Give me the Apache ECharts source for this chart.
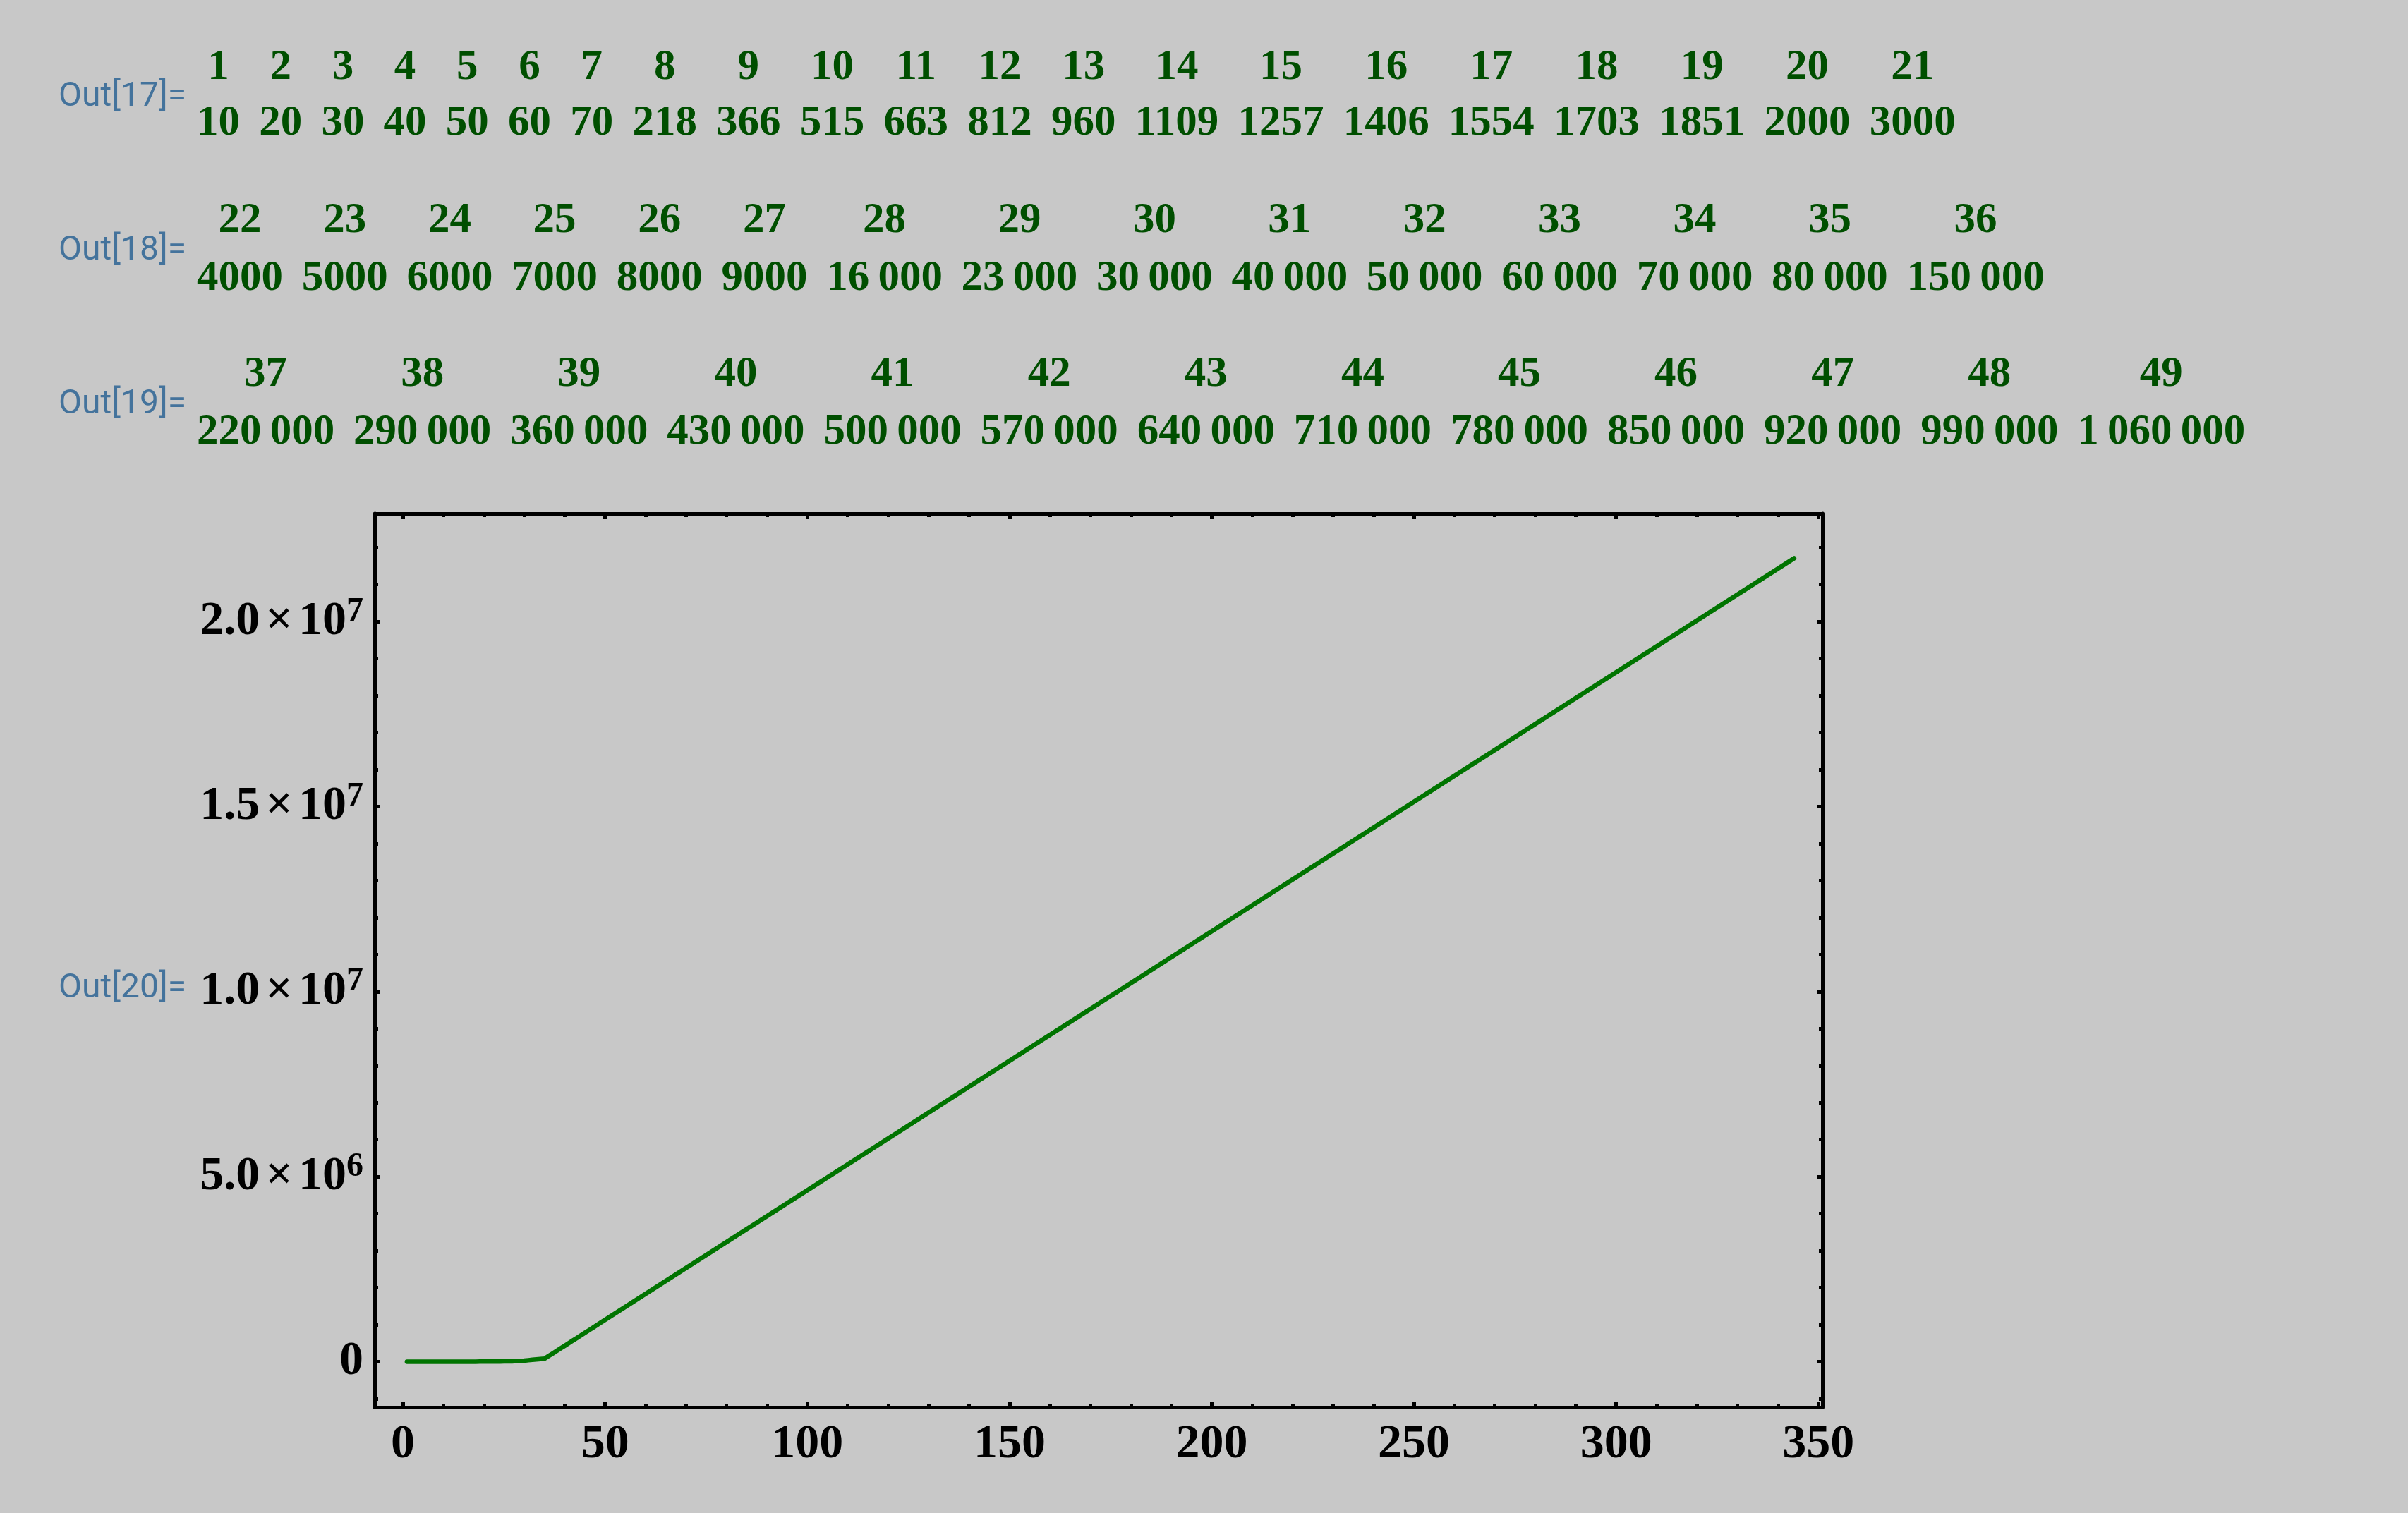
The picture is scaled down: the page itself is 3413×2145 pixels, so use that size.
<!DOCTYPE html>
<html>
<head>
<meta charset="utf-8">
<script src="https://cdn.jsdelivr.net/npm/echarts@6/dist/echarts.min.js"></script>
<style>
html,body{margin:0;padding:0;background:#c8c8c8;}
#c{width:3413px;height:2145px;}
</style>
</head>
<body>
<div id="c"></div>
<script>
// ---------- data ----------
const indexRow1 = [1,2,3,4,5,6,7,8,9,10,11,12,13,14,15,16,17,18,19,20,21];
const valueRow1 = [10,20,30,40,50,60,70,218,366,515,663,812,960,1109,1257,1406,1554,1703,1851,2000,3000];
const indexRow2 = [22,23,24,25,26,27,28,29,30,31,32,33,34,35,36];
const valueRow2 = [4000,5000,6000,7000,8000,9000,16000,23000,30000,40000,50000,60000,70000,80000,150000];
const indexRow3 = [37,38,39,40,41,42,43,44,45,46,47,48,49];
const valueRow3 = [220000,290000,360000,430000,500000,570000,640000,710000,780000,850000,920000,990000,1060000];
// end of the plotted line
const tailIndex = [344];
const tailValue = [21710000];
const outLabels = ['Out[17]=','Out[18]=','Out[19]=','Out[20]='];
const xTickValues = [0,50,100,150,200,250,300,350];
const yTickValues = [0,5000000,10000000,15000000,20000000];

// ---------- helpers ----------
const SERIF = '"Liberation Serif","Times New Roman",serif';
const TABLE_FONT = 'bold 61px ' + SERIF;
const TABLE_COLOR = '#004f00';
const OUT_FONT = '48px Roboto, "Noto Sans", sans-serif';
const OUT_COLOR = '#44739c';
const mctx = document.createElement('canvas').getContext('2d');
mctx.font = TABLE_FONT;

function fmt(v){
  const s = String(v);
  if (v < 10000) return s;
  let out = '';
  for (let i = 0; i < s.length; i++){
    if (i > 0 && (s.length - i) % 3 === 0) out += '\u2009';
    out += s[i];
  }
  return out;
}
function txt(str, x, y, font, color, align){
  return {type:'text', x:x, y:y, silent:true,
    style:{text:str, font:font, fill:color, textAlign:align, textVerticalAlign:'middle', align:align, verticalAlign:'middle'}};
}

const graphics = [];
const tables = [
  {label: outLabels[0], idx: indexRow1, val: valueRow1, y1: 96,  y2: 175, gap: 27.2},
  {label: outLabels[1], idx: indexRow2, val: valueRow2, y1: 313, y2: 395, gap: 26.7},
  {label: outLabels[2], idx: indexRow3, val: valueRow3, y1: 531, y2: 613, gap: 26.9}
];
tables.forEach(t => {
  let x = 279;
  t.idx.forEach((k, i) => {
    const a = String(k), b = fmt(t.val[i]);
    const w = Math.max(mctx.measureText(a).width, mctx.measureText(b).width);
    const cx = x + w / 2;
    graphics.push(txt(a, cx, t.y1, TABLE_FONT, TABLE_COLOR, 'center'));
    graphics.push(txt(b, cx, t.y2, TABLE_FONT, TABLE_COLOR, 'center'));
    x += w + t.gap;
  });
  graphics.push(txt(t.label, 264, (t.y1 + t.y2) / 2 + 2, OUT_FONT, OUT_COLOR, 'right'));
});
graphics.push(txt(outLabels[3], 264, 1402, OUT_FONT, OUT_COLOR, 'right'));

// line data
const allIdx = indexRow1.concat(indexRow2, indexRow3, tailIndex);
const allVal = valueRow1.concat(valueRow2, valueRow3, tailValue);
const lineData = allIdx.map((x, i) => [x, allVal[i]]);

// axis ranges (frame)
const X_MIN = -7, X_MAX = 351;
const Y_MIN = -1230000, Y_MAX = 22920000;
const xMinor = [], yMinor = [];
for (let v = 10; v <= 340; v += 10) if (v % 50 !== 0) xMinor.push(v);
for (let v = -1000000; v <= 22000000; v += 1000000) if (v % 5000000 !== 0) yMinor.push(v);

const LW = 5;
function axisDef(kind, pos, ticks, len, showLine, labels){
  return {type:'value', position:pos, gridIndex:0,
    min: kind === 'x' ? X_MIN : Y_MIN, max: kind === 'x' ? X_MAX : Y_MAX,
    axisLine:{show:showLine, onZero:false, lineStyle:{color:'#000', width:LW}},
    axisTick:{show:true, inside:true, length:len, customValues:ticks, lineStyle:{color:'#000', width:LW}},
    minorTick:{show:false}, splitLine:{show:false},
    axisLabel: labels ? labels : {show:false}};
}
const xLabel = {show:true, customValues:xTickValues, margin:19, color:'#000',
  fontFamily:SERIF, fontWeight:'bold', fontSize:68};
const yLabel = {show:true, customValues:yTickValues, margin:16, color:'#000',
  formatter: function(v){
    if (v === 0) return '{b|0}';
    const e = Math.floor(Math.log10(v) + 1e-9);
    const m = (v / Math.pow(10, e)).toFixed(1);
    return '{b|' + m + '}{x|×}{b|10}{s|' + e + '}';
  },
  rich:{
    b:{fontFamily:SERIF, fontWeight:'bold', fontSize:68, color:'#000', lineHeight:76},
    x:{fontFamily:SERIF, fontWeight:'bold', fontSize:68, color:'#000', lineHeight:76, padding:[0,8,0,8]},
    s:{fontFamily:SERIF, fontWeight:'bold', fontSize:48, color:'#000', lineHeight:40, verticalAlign:'top'}
  }};

const option = {
  backgroundColor:'#c8c8c8',
  animation:false,
  grid:{left:531, top:728, right:830, bottom:150, containLabel:false, outerBoundsMode:'none', show:false},
  xAxis:[
    axisDef('x', 'bottom', xTickValues, 8, true, xLabel),
    axisDef('x', 'bottom', xMinor, 5, false, null),
    axisDef('x', 'top', xTickValues, 8, true, null),
    axisDef('x', 'top', xMinor, 5, false, null)
  ],
  yAxis:[
    axisDef('y', 'left', yTickValues, 8, true, yLabel),
    axisDef('y', 'left', yMinor, 5, false, null),
    axisDef('y', 'right', yTickValues, 8, true, null),
    axisDef('y', 'right', yMinor, 5, false, null)
  ],
  series:[{
    type:'line', xAxisIndex:0, yAxisIndex:0, data:lineData,
    showSymbol:false, symbol:'none', smooth:false,
    lineStyle:{color:'#007400', width:6.5, cap:'round', join:'round'},
    silent:true
  }],
  graphic:{elements:graphics}
};

const chart = echarts.init(document.getElementById('c'), null, {renderer:'canvas', width:3413, height:2145});
chart.setOption(option);
</script>
</body>
</html>
